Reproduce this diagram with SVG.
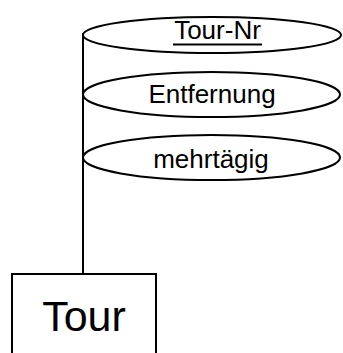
<svg xmlns="http://www.w3.org/2000/svg" width="343" height="353" viewBox="0 0 343 353">
<style>
.attr{fill:#fff;stroke:#000;stroke-width:2}
.t{font-family:"Liberation Sans",Arial,sans-serif;fill:#000;text-anchor:middle}
.line{stroke:#000;stroke-width:2;fill:none}
</style>
<rect width="343" height="353" fill="#fff"/>
<g id="connectors">
<line class="line" x1="83" y1="33" x2="83" y2="274"/>
</g>
<g id="attr-tournr">
<ellipse class="attr" cx="212" cy="35" rx="129" ry="18"/>
<text class="t" x="217.5" y="39" font-size="26">Tour-Nr</text>
<line class="line" x1="173" y1="44.5" x2="262" y2="44.5"/>
</g>
<g id="attr-entfernung">
<ellipse class="attr" cx="211.5" cy="94.5" rx="128.5" ry="22.5"/>
<text class="t" x="212" y="103" font-size="26">Entfernung</text>
</g>
<g id="attr-mehrtaegig">
<ellipse class="attr" cx="211.5" cy="157.5" rx="128.5" ry="22.5"/>
<text class="t" x="211" y="168" font-size="26">mehrtägig</text>
</g>
<g id="entity-tour">
<rect class="attr" x="12" y="274" width="144" height="100"/>
<text class="t" x="84" y="331" font-size="43">Tour</text>
</g>
</svg>
